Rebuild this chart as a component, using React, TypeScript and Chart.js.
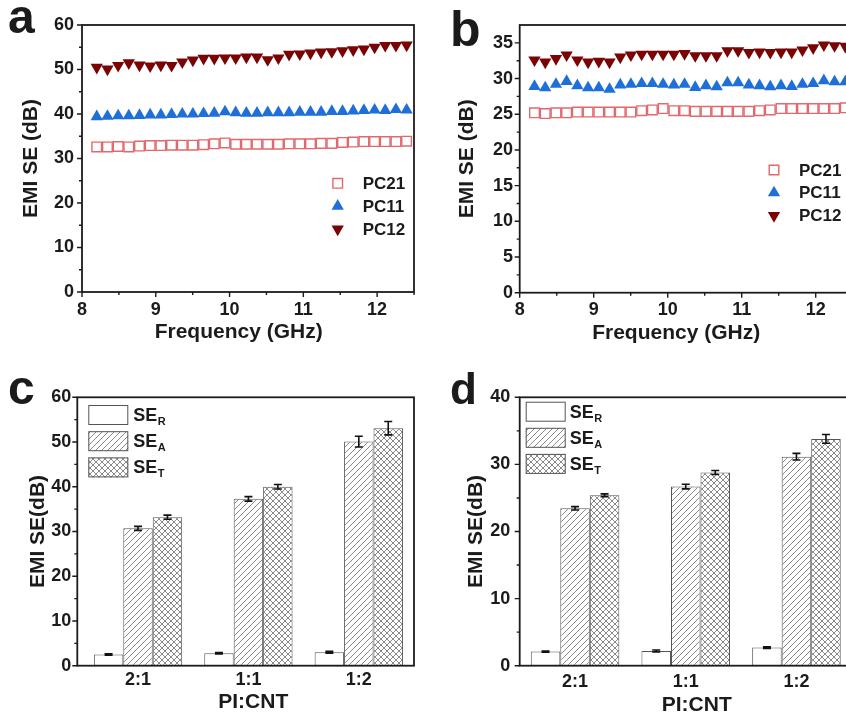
import React, { useEffect, useRef } from 'react';
import { Chart, registerables } from 'chart.js';
Chart.register(...registerables);

const FONT = "'Liberation Sans', Arial, Helvetica, sans-serif";
const INK = '#1b1b1b';
const PINK = '#e2686d';
const BLUE = '#1f6fd8';
const DARKRED = '#7a0303';
const BAR_EDGE = '#555555';

// ---------- data: panels a & b (frequency sweeps) ----------
const FREQ = [8.2, 8.345, 8.49, 8.634, 8.779, 8.924, 9.069, 9.214, 9.359, 9.503, 9.648, 9.793, 9.938, 10.083, 10.228,
  10.372, 10.517, 10.662, 10.807, 10.952, 11.097, 11.241, 11.386, 11.531, 11.676, 11.821, 11.966, 12.11, 12.255, 12.4];
const FREQ_TICKS = [8, 9, 10, 11, 12];

const A_TICKS = [0, 10, 20, 30, 40, 50, 60];
const A_PC21 = [32.6, 32.6, 32.7, 32.6, 32.8, 32.9, 32.9, 33.0, 33.0, 33.0, 33.1, 33.3, 33.5, 33.2, 33.2,
  33.2, 33.2, 33.2, 33.3, 33.3, 33.3, 33.4, 33.4, 33.6, 33.7, 33.8, 33.8, 33.8, 33.8, 33.9];
const A_PC11 = [39.4, 39.5, 39.6, 39.6, 39.7, 39.8, 39.8, 39.9, 40.0, 40.0, 40.1, 40.2, 40.5, 40.3, 40.2,
  40.2, 40.3, 40.3, 40.3, 40.4, 40.4, 40.4, 40.6, 40.6, 40.7, 40.8, 40.9, 40.8, 41.0, 40.9];
const A_PC12 = [50.5, 50.1, 50.9, 51.5, 51.0, 50.8, 51.0, 50.9, 51.7, 52.1, 52.5, 52.5, 52.6, 52.6, 52.8,
  52.8, 52.2, 52.6, 53.4, 53.5, 53.7, 53.9, 54.0, 54.2, 54.4, 54.6, 55.0, 55.4, 55.4, 55.5];

const B_TICKS = [0, 5, 10, 15, 20, 25, 30, 35];
const B_PC21 = [25.2, 25.1, 25.2, 25.2, 25.3, 25.3, 25.3, 25.3, 25.3, 25.3, 25.5, 25.6, 25.8, 25.5, 25.5,
  25.4, 25.4, 25.4, 25.4, 25.4, 25.4, 25.5, 25.6, 25.8, 25.8, 25.8, 25.8, 25.8, 25.8, 25.9];
const B_PC11 = [28.9, 28.7, 29.2, 29.6, 29.0, 28.7, 28.7, 28.5, 29.1, 29.2, 29.3, 29.3, 29.2, 29.1, 29.2,
  28.75, 29.0, 28.85, 29.4, 29.4, 29.1, 29.0, 28.85, 29.0, 28.9, 29.2, 29.3, 29.7, 29.55, 29.55];
const B_PC12 = [32.6, 32.3, 32.8, 33.3, 32.6, 32.3, 32.4, 32.3, 33.0, 33.3, 33.4, 33.4, 33.4, 33.4, 33.5,
  33.2, 33.2, 33.2, 33.9, 33.9, 33.65, 33.7, 33.65, 33.7, 33.7, 34.0, 34.3, 34.7, 34.6, 34.5];

// ---------- data: panels c & d (bars) ----------
const RATIOS = ['2:1', '1:1', '1:2'];
const RATIO_POS = [1, 2, 3];

const C_TICKS = [0, 10, 20, 30, 40, 50, 60];
const C_SER = [2.5, 2.8, 3.0];
const C_SER_ERR = [0.15, 0.15, 0.2];
const C_SEA = [30.7, 37.3, 50.1];
const C_SEA_ERR = [0.45, 0.5, 1.2];
const C_SET = [33.2, 40.0, 53.1];
const C_SET_ERR = [0.45, 0.5, 1.5];

const D_TICKS = [0, 10, 20, 30, 40];
const D_SER = [2.1, 2.2, 2.7];
const D_SER_ERR = [0.1, 0.15, 0.12];
const D_SEA = [23.45, 26.7, 31.15];
const D_SEA_ERR = [0.25, 0.35, 0.5];
const D_SET = [25.4, 28.8, 33.8];
const D_SET_ERR = [0.2, 0.3, 0.65];

// ---------- helpers ----------
function hatch(kind: 'diag' | 'cross'): CanvasPattern | string {
  const s = 6;
  const c = document.createElement('canvas');
  c.width = s; c.height = s;
  const g = c.getContext('2d');
  if (!g) return '#fff';
  g.fillStyle = '#ffffff';
  g.fillRect(0, 0, s, s);
  g.strokeStyle = '#7d7d7d';
  g.lineWidth = 0.9;
  g.beginPath();
  g.moveTo(-1, s + 1); g.lineTo(s + 1, -1);
  g.moveTo(-1, 1); g.lineTo(1, -1);
  g.moveTo(s - 1, s + 1); g.lineTo(s + 1, s - 1);
  if (kind === 'cross') {
    g.moveTo(-1, -1); g.lineTo(s + 1, s + 1);
    g.moveTo(s - 1, -1); g.lineTo(s + 1, 1);
    g.moveTo(-1, s - 1); g.lineTo(1, s + 1);
  }
  g.stroke();
  return g.createPattern(c, 'repeat') || '#fff';
}

function drawMarker(ctx: CanvasRenderingContext2D, ds: any, x: number, y: number) {
  const r = ds.pointRadius;
  ctx.save();
  ctx.beginPath();
  if (ds.pointStyle === 'rect') {
    const h = Math.SQRT1_2 * r;
    ctx.rect(x - h, y - h, 2 * h, 2 * h);
    ctx.fillStyle = '#fff';
    ctx.fill();
    ctx.strokeStyle = ds.pointBorderColor;
    ctx.lineWidth = ds.pointBorderWidth;
    ctx.stroke();
  } else {
    let rad = ((ds.pointRotation || 0) * Math.PI) / 180;
    for (let k = 0; k < 3; k++) {
      const px = x + Math.sin(rad) * r;
      const py = y - Math.cos(rad) * r;
      if (k === 0) ctx.moveTo(px, py); else ctx.lineTo(px, py);
      rad += (2 * Math.PI) / 3;
    }
    ctx.closePath();
    ctx.fillStyle = ds.pointBackgroundColor;
    ctx.fill();
  }
  ctx.restore();
}

function framePlugin(o: { xMajor?: number; xMinor?: number; yMajor: number; yMinor: number }) {
  return {
    id: 'frame',
    afterDatasetsDraw(chart: any) {
      const { ctx, chartArea: a, scales } = chart;
      ctx.save();
      ctx.strokeStyle = INK;
      ctx.lineWidth = 1.4;
      ctx.beginPath();
      const ys = scales.y;
      for (let k = 0; ; k++) {
        const v = ys.min + k * o.yMinor;
        if (v > ys.max + 1e-9) break;
        const major = Math.abs(v / o.yMajor - Math.round(v / o.yMajor)) < 1e-6;
        if (!major && Math.abs(v - ys.max) < 1e-9) continue;
        const p = ys.getPixelForValue(v);
        ctx.moveTo(a.left, p);
        ctx.lineTo(a.left - (major ? 5 : 3), p);
      }
      if (o.xMajor && o.xMinor) {
        const xs = scales.x;
        for (let k = 0; ; k++) {
          const v = xs.min + k * o.xMinor;
          if (v > xs.max + 1e-9) break;
          const major = Math.abs(v / o.xMajor - Math.round(v / o.xMajor)) < 1e-6;
          const p = xs.getPixelForValue(v);
          ctx.moveTo(p, a.bottom);
          ctx.lineTo(p, a.bottom + (major ? 5 : 3));
        }
      }
      ctx.stroke();
      ctx.lineWidth = 1.8;
      ctx.strokeRect(a.left, a.top, a.right - a.left, a.bottom - a.top);
      ctx.restore();
    },
  };
}

function errorPlugin() {
  return {
    id: 'errbars',
    afterDatasetsDraw(chart: any) {
      const { ctx } = chart;
      const ys = chart.scales.y;
      ctx.save();
      ctx.strokeStyle = '#111';
      ctx.lineWidth = 1.6;
      chart.data.datasets.forEach((ds: any, di: number) => {
        const errs: number[] | undefined = ds.errors;
        if (!errs) return;
        const meta = chart.getDatasetMeta(di);
        meta.data.forEach((el: any, i: number) => {
          const v = ds.data[i].y;
          const t = ys.getPixelForValue(v + errs[i]);
          const b = ys.getPixelForValue(v - errs[i]);
          ctx.beginPath();
          ctx.moveTo(el.x, t); ctx.lineTo(el.x, b);
          ctx.moveTo(el.x - 4, t); ctx.lineTo(el.x + 4, t);
          ctx.moveTo(el.x - 4, b); ctx.lineTo(el.x + 4, b);
          ctx.stroke();
        });
      });
      ctx.restore();
    },
  };
}

type Deco = {
  letter: { text: string; x: number; y: number; size: number };
  yTitle: { text: string; x: number };
  xTitle: { text: string; dx: number; y: number };
  legend: { kind: 'marker' | 'box'; x: number; y: number; dy: number; textX: number };
};

function decoPlugin(d: Deco) {
  return {
    id: 'deco',
    afterDraw(chart: any) {
      const { ctx, chartArea: a } = chart;
      ctx.save();
      ctx.fillStyle = INK;
      ctx.font = `bold ${d.letter.size}px ${FONT}`;
      ctx.textAlign = 'left';
      ctx.textBaseline = 'alphabetic';
      ctx.fillText(d.letter.text, d.letter.x, d.letter.y);
      ctx.font = `bold 21px ${FONT}`;
      ctx.textAlign = 'center';
      ctx.textBaseline = 'middle';
      ctx.fillText(d.xTitle.text, (a.left + a.right) / 2 + d.xTitle.dx, d.xTitle.y);
      ctx.save();
      ctx.translate(d.yTitle.x, (a.top + a.bottom) / 2);
      ctx.rotate(-Math.PI / 2);
      ctx.fillText(d.yTitle.text, 0, 0);
      ctx.restore();
      const L = d.legend;
      chart.data.datasets.forEach((ds: any, i: number) => {
        const cy = L.y + i * L.dy;
        if (L.kind === 'marker') {
          drawMarker(ctx, ds, L.x, cy);
          ctx.fillStyle = INK;
          ctx.font = `bold 17px ${FONT}`;
          ctx.textAlign = 'left';
          ctx.textBaseline = 'middle';
          ctx.fillText(ds.label, L.textX, cy + 1);
        } else {
          ctx.fillStyle = ds.backgroundColor;
          ctx.fillRect(L.x, cy - 10, 40, 20);
          ctx.strokeStyle = BAR_EDGE;
          ctx.lineWidth = 1;
          ctx.strokeRect(L.x + 0.5, cy - 9.5, 39, 19);
          const [main, sub] = String(ds.label).split('_');
          ctx.fillStyle = INK;
          ctx.textAlign = 'left';
          ctx.textBaseline = 'alphabetic';
          ctx.font = `bold 18px ${FONT}`;
          ctx.fillText(main, L.textX, cy + 6);
          const w = ctx.measureText(main).width;
          ctx.font = `bold 11px ${FONT}`;
          ctx.fillText(sub, L.textX + w + 0.5, cy + 10);
        }
      });
      ctx.restore();
    },
  };
}

const tickFont = { family: FONT, size: 18, weight: 'bold' as const };
const noGrid = { display: false, drawTicks: false, tickLength: 0 };

function scatterChart(
  canvas: HTMLCanvasElement,
  vals: { pc21: number[]; pc11: number[]; pc12: number[] },
  lay: { yW: number; xH: number; top: number; right: number; yMax: number; yTicks: number[]; yStep: number; yMinor: number; yPad: number; xPad: number },
  deco: Deco
) {
  const pts = (arr: number[]) => FREQ.map((x, i) => ({ x, y: arr[i] }));
  return new Chart(canvas, {
    type: 'scatter',
    data: {
      datasets: [
        { label: 'PC21', data: pts(vals.pc21), pointStyle: 'rect', pointRadius: 6.8, pointBackgroundColor: 'rgba(255,255,255,0)', pointBorderColor: PINK, pointBorderWidth: 1.4 } as any,
        { label: 'PC11', data: pts(vals.pc11), pointStyle: 'triangle', pointRadius: 7.1, pointBackgroundColor: BLUE, pointBorderWidth: 0, pointBorderColor: BLUE } as any,
        { label: 'PC12', data: pts(vals.pc12), pointStyle: 'triangle', pointRotation: 180, pointRadius: 7.1, pointBackgroundColor: DARKRED, pointBorderWidth: 0, pointBorderColor: DARKRED } as any,
      ],
    },
    options: {
      responsive: false,
      animation: false,
      devicePixelRatio: 1,
      layout: { padding: { top: lay.top, right: lay.right, bottom: 0, left: 0 } },
      plugins: { legend: { display: false }, tooltip: { enabled: false } },
      scales: {
        x: {
          type: 'linear', min: 8, max: 12.5,
          grid: noGrid, border: { display: false },
          ticks: { font: tickFont, color: INK, padding: lay.xPad, maxRotation: 0, autoSkip: false },
          afterBuildTicks: (s: any) => { s.ticks = FREQ_TICKS.map((v) => ({ value: v })); },
          afterFit: (s: any) => { s.height = lay.xH; },
        },
        y: {
          type: 'linear', min: 0, max: lay.yMax,
          grid: noGrid, border: { display: false },
          ticks: { font: tickFont, color: INK, padding: lay.yPad, autoSkip: false },
          afterBuildTicks: (s: any) => { s.ticks = lay.yTicks.map((v) => ({ value: v })); },
          afterFit: (s: any) => { s.width = lay.yW; },
        },
      },
    } as any,
    plugins: [framePlugin({ xMajor: 1, xMinor: 0.5, yMajor: lay.yStep, yMinor: lay.yMinor }), decoPlugin(deco)],
  });
}

function barChart(
  canvas: HTMLCanvasElement,
  vals: { r: number[]; re: number[]; a: number[]; ae: number[]; t: number[]; te: number[] },
  lay: { yW: number; xH: number; top: number; right: number; xMin: number; yMax: number; yTicks: number[]; yPad: number; xPad: number },
  deco: Deco
) {
  const pts = (arr: number[]) => RATIO_POS.map((x, i) => ({ x, y: arr[i] }));
  const common = { borderColor: BAR_EDGE, borderWidth: 1, borderSkipped: false, categoryPercentage: 0.8, barPercentage: 1 };
  return new Chart(canvas, {
    type: 'bar',
    data: {
      datasets: [
        { label: 'SE_R', data: pts(vals.r), backgroundColor: '#ffffff', errors: vals.re, ...common } as any,
        { label: 'SE_A', data: pts(vals.a), backgroundColor: hatch('diag'), errors: vals.ae, ...common } as any,
        { label: 'SE_T', data: pts(vals.t), backgroundColor: hatch('cross'), errors: vals.te, ...common } as any,
      ],
    },
    options: {
      responsive: false,
      animation: false,
      devicePixelRatio: 1,
      layout: { padding: { top: lay.top, right: lay.right, bottom: 0, left: 0 } },
      plugins: { legend: { display: false }, tooltip: { enabled: false } },
      scales: {
        x: {
          type: 'linear', min: lay.xMin, max: 3.5, offset: false,
          grid: noGrid, border: { display: false },
          ticks: { font: tickFont, color: INK, padding: lay.xPad, maxRotation: 0, autoSkip: false, callback: (_v: any, i: number) => RATIOS[i] },
          afterBuildTicks: (s: any) => { s.ticks = RATIO_POS.map((v) => ({ value: v })); },
          afterFit: (s: any) => { s.height = lay.xH; },
        },
        y: {
          type: 'linear', min: 0, max: lay.yMax,
          grid: noGrid, border: { display: false },
          ticks: { font: tickFont, color: INK, padding: lay.yPad, autoSkip: false },
          afterBuildTicks: (s: any) => { s.ticks = lay.yTicks.map((v) => ({ value: v })); },
          afterFit: (s: any) => { s.width = lay.yW; },
        },
      },
    } as any,
    plugins: [errorPlugin(), framePlugin({ yMajor: 10, yMinor: 5 }), decoPlugin(deco)],
  });
}

function Panel({ left, top, width, height, make }: { left: number; top: number; width: number; height: number; make: (c: HTMLCanvasElement) => Chart }) {
  const ref = useRef<HTMLCanvasElement>(null);
  useEffect(() => {
    if (!ref.current) return;
    const chart = make(ref.current);
    return () => chart.destroy();
  }, []);
  return <canvas ref={ref} width={width} height={height} style={{ position: 'absolute', left, top, width, height }} />;
}

export default function App() {
  return (
    <div style={{ position: 'fixed', left: 0, top: 0, width: 846, height: 720, overflow: 'hidden', background: '#fff' }}>
      <Panel left={0} top={0} width={423} height={360} make={(c) => scatterChart(c,
        { pc21: A_PC21, pc11: A_PC11, pc12: A_PC12 },
        { yW: 82, xH: 68, top: 25, right: 9, yMax: 60, yTicks: A_TICKS, yStep: 10, yMinor: 5, yPad: 8, xPad: 7.5 },
        { letter: { text: 'a', x: 8, y: 33, size: 48 }, yTitle: { text: 'EMI SE (dB)', x: 31.7 }, xTitle: { text: 'Frequency (GHz)', dx: -9.3, y: 332 },
          legend: { kind: 'marker', x: 337.7, y: 183.3, dy: 22.9, textX: 362.7 } })} />
      <Panel left={423} top={0} width={440} height={360} make={(c) => scatterChart(c,
        { pc21: B_PC21, pc11: B_PC11, pc12: B_PC12 },
        { yW: 96.7, xH: 67.3, top: 25, right: 10.3, yMax: 37.5, yTicks: B_TICKS, yStep: 5, yMinor: 2.5, yPad: 6.7, xPad: 6.8 },
        { letter: { text: 'b', x: 27, y: 46, size: 50 }, yTitle: { text: 'EMI SE (dB)', x: 44 }, xTitle: { text: 'Frequency (GHz)', dx: -10, y: 333 },
          legend: { kind: 'marker', x: 351, y: 170, dy: 22.8, textX: 376 } })} />
      <Panel left={0} top={360} width={423} height={360} make={(c) => barChart(c,
        { r: C_SER, re: C_SER_ERR, a: C_SEA, ae: C_SEA_ERR, t: C_SET, te: C_SET_ERR },
        { yW: 77.3, xH: 54.3, top: 37.3, right: 9, xMin: 0.45, yMax: 60, yTicks: C_TICKS, yPad: 6, xPad: 3.5 },
        { letter: { text: 'c', x: 8, y: 43.5, size: 48 }, yTitle: { text: 'EMI SE(dB)', x: 38 }, xTitle: { text: 'PI:CNT', dx: 7.6, y: 342 },
          legend: { kind: 'box', x: 88.3, y: 55, dy: 26.2, textX: 133.3 } })} />
      <Panel left={423} top={360} width={440} height={360} make={(c) => barChart(c,
        { r: D_SER, re: D_SER_ERR, a: D_SEA, ae: D_SEA_ERR, t: D_SET, te: D_SET_ERR },
        { yW: 96.7, xH: 54.3, top: 37.3, right: 11.2, xMin: 0.5, yMax: 40, yTicks: D_TICKS, yPad: 9.4, xPad: 5.3 },
        { letter: { text: 'd', x: 27, y: 43.5, size: 44 }, yTitle: { text: 'EMI SE(dB)', x: 53 }, xTitle: { text: 'PI:CNT', dx: 11, y: 345 },
          legend: { kind: 'box', x: 102.7, y: 51.7, dy: 26.1, textX: 146.7 } })} />
    </div>
  );
}
